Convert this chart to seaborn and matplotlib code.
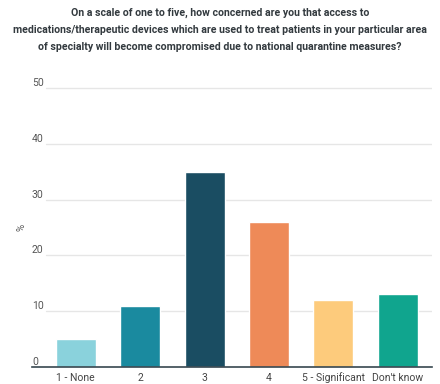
import pandas as pd
import matplotlib.pyplot as plt
import seaborn as sns

# Answers and shares (%)
categories = ['1 - None', '2', '3', '4', '5 - Significant', "Don't know"]
percent = [5, 11, 35, 26, 12, 13]
colors = ['#8ad2dc', '#1a8a9f', '#1a4d62', '#ee8a58', '#fdcb7c', '#10a58e']
yticks = [0, 10, 20, 30, 40, 50]

df = pd.DataFrame({'answer': categories, 'pct': percent})

sns.set_style('white')
plt.rcParams['font.family'] = ['Roboto', 'DejaVu Sans']

fig = plt.figure(figsize=(4.4, 3.84), dpi=100)
ax = fig.add_axes([32 / 440, 17 / 384, 400 / 440, 280 / 384])

sns.barplot(data=df, x='answer', y='pct', hue='answer', palette=colors,
            width=0.62, legend=False, ax=ax, saturation=1)

ax.set_xlim(-0.68, 5.53)
ax.set_ylim(0, 50.2)
ax.set_yticks(yticks)
# gridlines start a little right of the tick labels
for t in yticks[1:]:
    ax.axhline(t, xmin=0.035, xmax=1, color='#e6e6e6', linewidth=1, zorder=0)
ax.tick_params(axis='y', length=0, labelsize=7.5, labelcolor='#555555', pad=0)
ax.tick_params(axis='x', length=0, labelsize=7.5, labelcolor='#444444', pad=4)
for lab in ax.get_yticklabels():
    lab.set_horizontalalignment('left')
    lab.set_verticalalignment('bottom')

for s in ['top', 'right', 'left']:
    ax.spines[s].set_visible(False)
ax.spines['bottom'].set_color('#37474f')
ax.spines['bottom'].set_linewidth(1.2)

ax.set_xlabel('')
ax.set_ylabel('%', fontsize=7, color='#555555', labelpad=4)

fig.text(0.5, 1 - 8 / 384,
         'On a scale of one to five, how concerned are you that access to\n'
         'medications/therapeutic devices which are used to treat patients in your particular area\n'
         'of specialty will become compromised due to national quarantine measures?',
         ha='center', va='top', fontsize=7.6, fontweight='bold', color='#333a3f',
         linespacing=1.85)

plt.savefig('out.png', dpi=100)
